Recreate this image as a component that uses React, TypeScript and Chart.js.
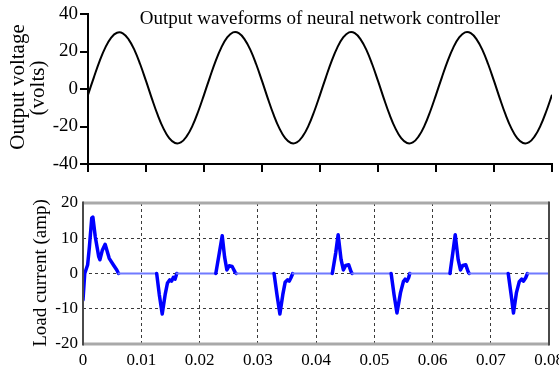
import React, { useEffect, useRef } from 'react';
import { Chart, registerables } from 'chart.js';

Chart.register(...registerables);

const FONT = "'Liberation Serif', 'Times New Roman', Times, serif";

// ---------- shared x axis ----------
const xTickValues = [0, 0.01, 0.02, 0.03, 0.04, 0.05, 0.06, 0.07, 0.08];
const xTickLabels = ['0', '0.01', '0.02', '0.03', '0.04', '0.05', '0.06', '0.07', '0.08'];

// ---------- top chart: output voltage ----------
const voltageTitle = 'Output waveforms of neural network controller';
const voltageAxisTitle = ['Output voltage', '(volts)'];
const voltTickValues = [-40, -20, 0, 20, 40];
const voltTickLabels = ['-40', '-20', '0', '20', '40'];

const voltageTimes = [
  0, 0.001, 0.002, 0.003, 0.004, 0.005, 0.006, 0.007, 0.008, 0.009,
  0.01, 0.011, 0.012, 0.013, 0.014, 0.015, 0.016, 0.017, 0.018, 0.019,
  0.02, 0.021, 0.022, 0.023, 0.024, 0.025, 0.026, 0.027, 0.028, 0.029,
  0.03, 0.031, 0.032, 0.033, 0.034, 0.035, 0.036, 0.037, 0.038, 0.039,
  0.04, 0.041, 0.042, 0.043, 0.044, 0.045, 0.046, 0.047, 0.048, 0.049,
  0.05, 0.051, 0.052, 0.053, 0.054, 0.055, 0.056, 0.057, 0.058, 0.059,
  0.06, 0.061, 0.062, 0.063, 0.064, 0.065, 0.066, 0.067, 0.068, 0.069,
  0.07, 0.071, 0.072, 0.073, 0.074, 0.075, 0.076, 0.077, 0.078, 0.079,
  0.08,
];
const voltageValues = [
  -3.1, 6.1, 14.9, 22.2, 27.4, 30.0, 29.7, 26.5, 20.9, 13.2,
  4.3, -5.0, -13.7, -21.0, -26.2, -28.8, -28.5, -25.3, -19.7, -12.0,
  -3.1, 6.1, 14.9, 22.2, 27.5, 30.2, 29.8, 26.5, 20.9, 13.2,
  4.3, -5.0, -13.7, -21.0, -26.2, -28.8, -28.5, -25.3, -19.7, -12.0,
  -3.1, 6.1, 14.9, 22.2, 27.5, 30.2, 29.8, 26.5, 20.9, 13.2,
  4.3, -5.0, -13.7, -21.0, -26.2, -28.8, -28.5, -25.3, -19.7, -12.0,
  -3.1, 6.1, 14.9, 22.2, 27.5, 30.2, 29.8, 26.5, 20.9, 13.2,
  4.3, -5.0, -13.7, -21.0, -26.2, -28.8, -28.5, -25.3, -19.7, -12.0,
  -3.1,
];

// ---------- bottom chart: load current ----------
const currentAxisTitle = 'Load current (amp)';
const currTickValues = [-20, -10, 0, 10, 20];
const currTickLabels = ['-20', '-10', '0', '10', '20'];

const currentTimes = [
  0, 0.0003, 0.0008, 0.0011, 0.0015, 0.0017, 0.0021, 0.0027, 0.0029, 0.0033, 0.0038, 0.0045, 0.0052, 0.0058, 0.0061,
  0.01265, 0.0131, 0.0136, 0.0141, 0.0145, 0.0149, 0.0152, 0.0155, 0.0158, 0.0161,
  0.0228, 0.0234, 0.0239, 0.0243, 0.0247, 0.0251, 0.0256, 0.0261, 0.0263,
  0.0328, 0.0333, 0.0338, 0.0343, 0.0347, 0.0351, 0.0354, 0.0357, 0.036,
  0.0428, 0.0434, 0.0438, 0.0443, 0.0447, 0.0451, 0.0456, 0.046, 0.0462,
  0.0529, 0.0534, 0.0539, 0.0545, 0.055, 0.0553, 0.0556, 0.0559, 0.0561,
  0.063, 0.0635, 0.0639, 0.0644, 0.0648, 0.0652, 0.0657, 0.0661, 0.0663,
  0.073, 0.0735, 0.0739, 0.0744, 0.0749, 0.0753, 0.0756, 0.076, 0.0763,
  0.08,
];
const currentValues = [
  -7.5, 0, 2.5, 7.6, 15.7, 16, 10.5, 4.8, 3.9, 6.5, 8.3, 4.3, 2.5, 1.0, 0,
  0, -6, -11.5, -6, -2.7, -1.8, -2.2, -1.1, -1.6, 0,
  0, 5.8, 10.7, 4.8, 1.0, 2.2, 2.0, 0.4, 0,
  0, -6, -11.5, -6, -2.5, -1.8, -2.2, -1.2, 0,
  0, 6, 11, 4, 1.0, 2.3, 2.5, 0.6, 0,
  0, -6, -11.2, -5.5, -2.3, -1.6, -2.2, -1.2, 0,
  0, 6, 11, 4, 1.0, 2.3, 2.5, 0.6, 0,
  0, -6, -11.2, -5.5, -2.3, -1.6, -2.2, -1.2, 0,
  0,
];

const W = 559;
const H = 369;

function rotatedText(ctx: CanvasRenderingContext2D, text: string, x: number, y: number, size: number) {
  ctx.save();
  ctx.translate(x, y);
  ctx.rotate(-Math.PI / 2);
  ctx.font = `${size}px ${FONT}`;
  ctx.fillStyle = '#000';
  ctx.textAlign = 'center';
  ctx.textBaseline = 'middle';
  ctx.fillText(text, 0, 0);
  ctx.restore();
}

const topTextPlugin = {
  id: 'topText',
  afterDraw(chart: any) {
    const ctx = chart.ctx as CanvasRenderingContext2D;
    ctx.save();
    ctx.font = `19px ${FONT}`;
    ctx.fillStyle = '#000';
    ctx.textAlign = 'center';
    ctx.textBaseline = 'alphabetic';
    ctx.fillText(voltageTitle, 320, 24);
    ctx.restore();
    rotatedText(ctx, voltageAxisTitle[0], 18, 87, 21);
    rotatedText(ctx, voltageAxisTitle[1], 38, 88, 21);
  },
};

const bottomFramePlugin = {
  id: 'bottomFrame',
  afterDatasetsDraw(chart: any) {
    const ctx = chart.ctx as CanvasRenderingContext2D;
    const { left, right, top, bottom } = chart.chartArea;
    ctx.save();
    ctx.strokeStyle = '#a9a9a9';
    ctx.lineWidth = 3;
    ctx.beginPath();
    ctx.moveTo(left, top);
    ctx.lineTo(right, top);
    ctx.moveTo(left, bottom);
    ctx.lineTo(right, bottom);
    ctx.stroke();
    ctx.strokeStyle = '#4a4a4a';
    ctx.lineWidth = 2;
    ctx.beginPath();
    ctx.moveTo(left, top - 1.5);
    ctx.lineTo(left, bottom + 1.5);
    ctx.moveTo(right, top - 1.5);
    ctx.lineTo(right, bottom + 1.5);
    ctx.stroke();
    ctx.restore();
  },
  afterDraw(chart: any) {
    rotatedText(chart.ctx, currentAxisTitle, 41, 273, 19);
  },
};

function zeroPad(s: any) {
  s.paddingLeft = 0;
  s.paddingRight = 0;
  s.paddingTop = 0;
  s.paddingBottom = 0;
}

export default function App() {
  const topRef = useRef<HTMLCanvasElement | null>(null);
  const botRef = useRef<HTMLCanvasElement | null>(null);

  useEffect(() => {
    const topChart = new Chart(topRef.current as HTMLCanvasElement, {
      type: 'line',
      data: {
        datasets: [
          {
            data: voltageTimes.map((t, i) => ({ x: t, y: voltageValues[i] })),
            borderColor: '#000',
            borderWidth: 2,
            pointRadius: 0,
            tension: 0.4,
            fill: false,
          },
        ],
      },
      options: {
        responsive: false,
        animation: false,
        devicePixelRatio: 1,
        layout: { padding: { left: 0, right: 7, top: 14, bottom: 195 } },
        plugins: { legend: { display: false }, tooltip: { enabled: false } },
        scales: {
          x: {
            type: 'linear',
            min: 0,
            max: 0.08,
            afterBuildTicks: (s: any) => {
              s.ticks = xTickValues.map((v) => ({ value: v }));
            },
            afterFit: (s: any) => {
              s.height = 10;
              zeroPad(s);
            },
            ticks: { display: false },
            grid: { drawOnChartArea: false, drawTicks: true, tickLength: 8, color: '#000', lineWidth: 2 },
            border: { display: true, color: '#000', width: 2 },
          },
          y: {
            type: 'linear',
            min: -40,
            max: 40,
            afterBuildTicks: (s: any) => {
              s.ticks = voltTickValues.map((v) => ({ value: v }));
            },
            afterFit: (s: any) => {
              s.width = 88;
              zeroPad(s);
            },
            ticks: {
              color: '#000',
              padding: 2,
              font: { family: FONT, size: 19 },
              callback: (_v: any, i: number) => voltTickLabels[i],
            },
            grid: { drawOnChartArea: false, drawTicks: true, tickLength: 8, color: '#000', lineWidth: 2 },
            border: { display: true, color: '#000', width: 2 },
          },
        },
      },
      plugins: [topTextPlugin],
    } as any);

    const isFlat = (c: any) => c.p0.parsed.y === 0 && c.p1.parsed.y === 0;
    const edgeHidden = (edges: number[], color: string) => (c: any) =>
      c.tick && edges.includes(c.tick.value) ? 'rgba(0,0,0,0)' : color;

    const botChart = new Chart(botRef.current as HTMLCanvasElement, {
      type: 'line',
      data: {
        datasets: [
          {
            data: currentTimes.map((t, i) => ({ x: t, y: currentValues[i] })),
            borderColor: '#0000ff',
            borderWidth: 3.5,
            borderJoinStyle: 'round',
            borderCapStyle: 'round',
            pointRadius: 0,
            tension: 0,
            fill: false,
            segment: {
              borderColor: (c: any) => (isFlat(c) ? 'rgb(112,122,255)' : '#0000ff'),
              borderWidth: (c: any) => (isFlat(c) ? 2 : 3.5),
            },
          },
        ],
      },
      options: {
        responsive: false,
        animation: false,
        devicePixelRatio: 1,
        layout: { padding: { left: 0, right: 10, top: 203, bottom: 0 } },
        plugins: { legend: { display: false }, tooltip: { enabled: false } },
        scales: {
          x: {
            type: 'linear',
            min: 0,
            max: 0.08,
            afterBuildTicks: (s: any) => {
              s.ticks = xTickValues.map((v) => ({ value: v }));
            },
            afterFit: (s: any) => {
              s.height = 25;
              zeroPad(s);
            },
            ticks: {
              color: '#000',
              padding: 6,
              maxRotation: 0,
              font: { family: FONT, size: 17 },
              callback: (_v: any, i: number) => xTickLabels[i],
            },
            grid: {
              drawOnChartArea: true,
              drawTicks: false,
              color: edgeHidden([0, 0.08], '#3a3a3a'),
              lineWidth: 1,
            },
            border: { display: false, dash: [3, 3] },
          },
          y: {
            type: 'linear',
            min: -20,
            max: 20,
            afterBuildTicks: (s: any) => {
              s.ticks = currTickValues.map((v) => ({ value: v }));
            },
            afterFit: (s: any) => {
              s.width = 83;
              zeroPad(s);
            },
            ticks: {
              color: '#000',
              padding: 5,
              font: { family: FONT, size: 17 },
              callback: (_v: any, i: number) => currTickLabels[i],
            },
            grid: {
              drawOnChartArea: true,
              drawTicks: false,
              color: edgeHidden([-20, 20], '#3a3a3a'),
              lineWidth: 1,
            },
            border: { display: false, dash: [3, 3] },
          },
        },
      },
      plugins: [bottomFramePlugin],
    } as any);

    return () => {
      topChart.destroy();
      botChart.destroy();
    };
  }, []);

  const canvasStyle: React.CSSProperties = { position: 'absolute', left: 0, top: 0, width: W, height: H };

  return (
    <div style={{ position: 'absolute', left: 0, top: 0, width: W, height: H, background: '#fff' }}>
      <canvas ref={botRef} width={W} height={H} style={canvasStyle} />
      <canvas ref={topRef} width={W} height={H} style={canvasStyle} />
    </div>
  );
}
